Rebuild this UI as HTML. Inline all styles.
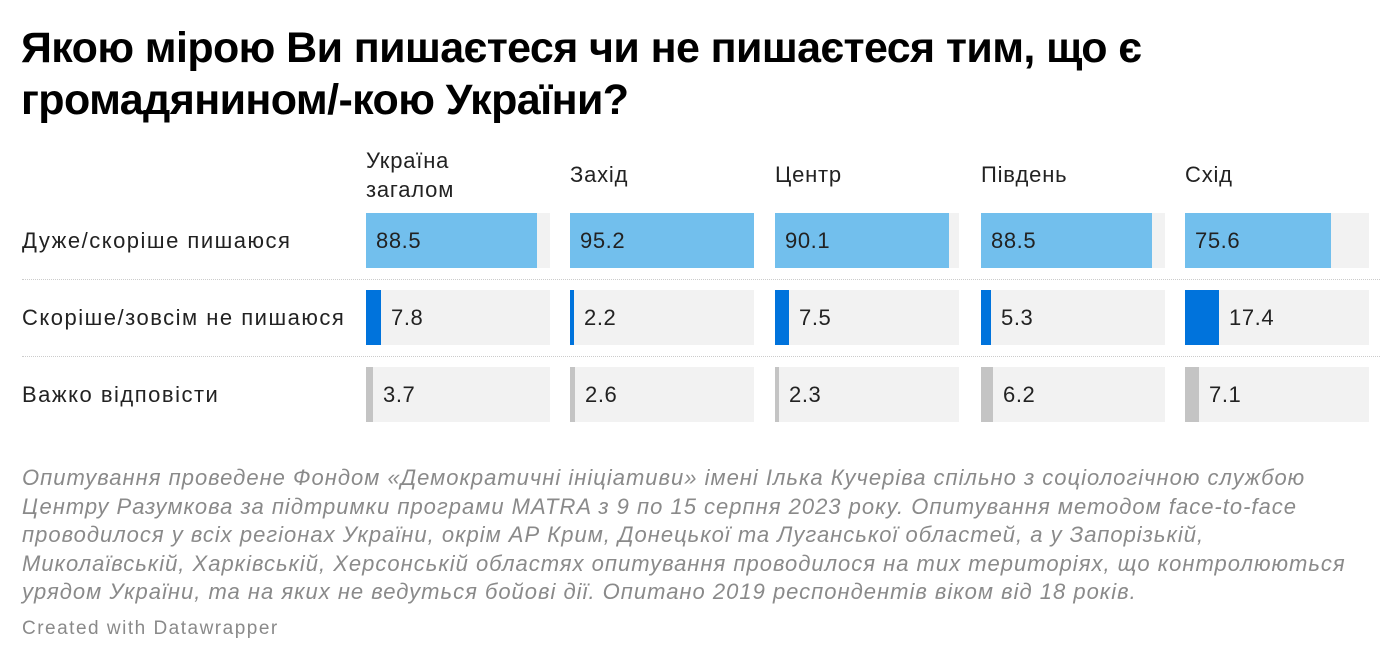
<!DOCTYPE html>
<html><head><meta charset="utf-8"><style>
body{margin:0;width:1400px;height:663px;background:#fff;font-family:"Liberation Sans",sans-serif;color:#222;position:relative;overflow:hidden}
.t{position:absolute;left:21px;top:22px;font-size:43px;font-weight:bold;line-height:52px;letter-spacing:-0.6px;color:#000;white-space:nowrap}
.h{position:absolute;font-size:22px;line-height:29px;color:#222;letter-spacing:0.8px}
.rl{position:absolute;left:22px;font-size:22px;color:#222;letter-spacing:1.5px}
.bg{position:absolute;width:184px;height:55px;background:#f2f2f2}
.b{position:absolute;left:0;top:0;height:55px}
.v{position:absolute;top:0;line-height:55px;font-size:22px;color:#222;letter-spacing:0.6px}
.dot{position:absolute;left:22px;width:1358px;border-top:1px dotted #ccc}
.n{position:absolute;left:22px;top:464px;width:1352px;font-size:22px;line-height:28.5px;font-style:italic;color:#8a8a8a;letter-spacing:1.0px}
.c{position:absolute;left:22px;top:618px;font-size:19px;color:#8a8a8a;letter-spacing:1.5px}
</style></head><body>
<div class="t">Якою мірою Ви пишаєтеся чи не пишаєтеся тим, що є<br>громадянином/-кою України?</div>
<div class="h" style="left:366px;top:146px">Україна<br>загалом</div>
<div class="h" style="left:570px;top:160px">Захід</div>
<div class="h" style="left:775px;top:160px">Центр</div>
<div class="h" style="left:981px;top:160px">Південь</div>
<div class="h" style="left:1185px;top:160px">Схід</div>
<div class="rl" style="top:228px">Дуже/скоріше пишаюся</div>
<div class="rl" style="top:305px">Скоріше/зовсім не пишаюся</div>
<div class="rl" style="top:382px">Важко відповісти</div>
<div class="dot" style="top:279px"></div>
<div class="dot" style="top:356px"></div>
<div id="g"></div>
<div class="n">Опитування проведене Фондом «Демократичні ініціативи» імені Ілька Кучеріва спільно з соціологічною службою Центру Разумкова за підтримки програми MATRA з 9 по 15 серпня 2023 року. Опитування методом face-to-face проводилося у всіх регіонах України, окрім АР Крим, Донецької та Луганської областей, а у Запорізькій, Миколаївській, Харківській, Херсонській областях опитування проводилося на тих територіях, що контролюються урядом України, та на яких не ведуться бойові дії. Опитано 2019 респондентів віком від 18 років.</div>
<div class="c">Created with Datawrapper</div>
<script>
var xs=[366,570,775,981,1185],ys=[213,290,367],cols=["#72bfed","#0073dc","#c4c4c4"];
var d=[[88.5,95.2,90.1,88.5,75.6],[7.8,2.2,7.5,5.3,17.4],[3.7,2.6,2.3,6.2,7.1]];
var h="";
for(var r=0;r<3;r++)for(var c=0;c<5;c++){var v=d[r][c],w=Math.round(v/95.2*184);
var lx=r==0?10:w+10;
h+='<div class="bg" style="left:'+xs[c]+'px;top:'+ys[r]+'px"><div class="b" style="width:'+w+'px;background:'+cols[r]+'"></div><div class="v" style="left:'+lx+'px">'+v.toFixed(1)+'</div></div>';}
document.getElementById("g").innerHTML=h;
</script>
</body></html>
